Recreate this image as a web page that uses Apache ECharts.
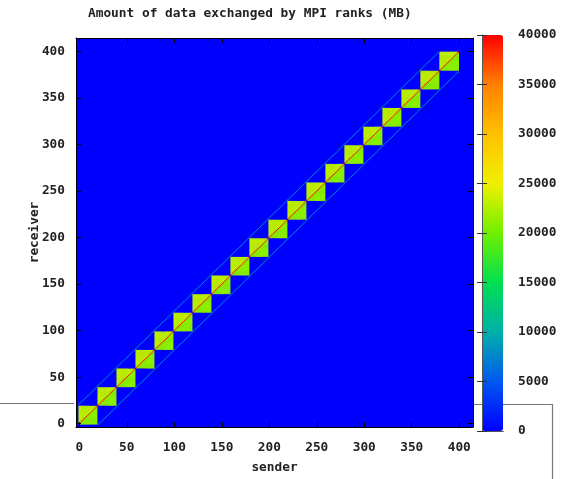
<!DOCTYPE html>
<html><head><meta charset="utf-8">
<script src="https://cdn.jsdelivr.net/npm/echarts@6/dist/echarts.min.js"></script>
<style>html,body{margin:0;padding:0;background:#fff}#c{width:570px;height:479px}</style>
</head><body><div id="c"></div>
<script>
// ---- data ----
const titleText = 'Amount of data exchanged by MPI ranks (MB)';
const xName = 'sender';
const yName = 'receiver';
const rankCount = 400;                 // ranks 0..399
const axisMin = -3;                    // visible axis range (ranks)
const axisMax = 414;
const blockSize = 20;
const blockStarts = [0, 20, 40, 60, 80, 100, 120, 140, 160, 180, 200, 220, 240, 260, 280, 300, 320, 340, 360, 380];
const diagonalValue = 40000;           // sender == receiver
const upperBlockValue = 23000;         // same block, receiver > sender
const lowerBlockValue = 21000;         // same block, receiver < sender
const neighbourOffset = 21;            // faint lines |sender-receiver| == offset
const neighbourValue = 9000;
const otherValue = 0;
const axisTickLabels = [0, 50, 100, 150, 200, 250, 300, 350, 400];
const colorMin = 0;
const colorMax = 40000;
const colorStep = 5000;

// ---- build categories / cells ----
const categories = [];
for (let v = axisMin; v <= axisMax; v++) categories.push(String(v));
function blockOf(r) {
  for (let k = 0; k < blockStarts.length; k++) {
    if (r >= blockStarts[k] && r < blockStarts[k] + blockSize) return k;
  }
  return -1;
}
const cells = [];
for (let s = 0; s < rankCount; s++) {
  const bs = blockOf(s);
  for (let r = 0; r < rankCount; r++) {
    let v = otherValue;
    if (s === r) v = diagonalValue;
    else if (bs === blockOf(r)) v = r > s ? upperBlockValue : lowerBlockValue;
    else if (Math.abs(s - r) === neighbourOffset) v = neighbourValue;
    cells.push([s - axisMin, r - axisMin, v]);
  }
}
const showTick = (idx, val) => axisTickLabels.indexOf(Number(val)) >= 0;

const font = { fontFamily: 'DejaVu Sans Mono', fontWeight: 'bold', fontSize: 12.8, color: '#222' };
const chart = echarts.init(document.getElementById('c'), null, { renderer: 'canvas' });
const plotAxisCommon = {
  type: 'category', data: categories, gridIndex: 0,
  axisLine: { show: true, lineStyle: { color: '#000', width: 1 } },
  axisTick: { show: true, inside: true, length: 5, alignWithLabel: true, interval: showTick, lineStyle: { color: '#000' } },
  splitLine: { show: false }, splitArea: { show: false }, z: 10
};
chart.setOption({
  animation: false,
  backgroundColor: '#fff',
  title: { text: titleText, left: 88, top: 7, padding: 0, textStyle: Object.assign({}, font) },
  grid: [
    { left: 76, top: 38, width: 397, height: 394, show: true, backgroundColor: '#0000ff', borderWidth: 0 },
    { left: 482, top: 35, width: 21, height: 396, show: false }
  ],
  xAxis: [
    Object.assign({}, plotAxisCommon, {
      position: 'bottom',
      axisLabel: Object.assign({ interval: showTick, margin: 14 }, font),
      name: xName, nameLocation: 'middle', nameGap: 34, nameMoveOverlap: false, nameTextStyle: Object.assign({}, font)
    }),
    Object.assign({}, plotAxisCommon, { position: 'top', axisLabel: { show: false } }),
    { type: 'value', gridIndex: 1, position: 'bottom', min: 0, max: 1, axisLine: { show: true, lineStyle: { color: '#555' } }, axisTick: { show: false }, axisLabel: { show: false }, splitLine: { show: false }, z: 10 },
    { type: 'value', gridIndex: 1, position: 'top', min: 0, max: 1, axisLine: { show: true, lineStyle: { color: '#555' } }, axisTick: { show: false }, axisLabel: { show: false }, splitLine: { show: false }, z: 10 }
  ],
  yAxis: [
    Object.assign({}, plotAxisCommon, {
      position: 'left',
      axisLabel: Object.assign({ interval: showTick, margin: 11 }, font),
      name: yName, nameLocation: 'middle', nameGap: 35, nameRotate: 90, nameMoveOverlap: false, nameTextStyle: Object.assign({}, font)
    }),
    Object.assign({}, plotAxisCommon, { position: 'right', axisLabel: { show: false } }),
    { type: 'value', gridIndex: 1, position: 'right', min: colorMin, max: colorMax, interval: colorStep,
      axisLine: { show: true, lineStyle: { color: '#555' } },
      axisTick: { show: true, inside: true, length: 5, lineStyle: { color: '#333' } },
      axisLabel: Object.assign({ margin: 15, formatter: v => String(v) }, font), splitLine: { show: false }, z: 10 },
    { type: 'value', gridIndex: 1, position: 'left', min: colorMin, max: colorMax, interval: colorStep,
      axisLine: { show: true, lineStyle: { color: '#555' } },
      axisTick: { show: true, inside: true, length: 5, lineStyle: { color: '#333' } },
      axisLabel: { show: false }, splitLine: { show: false }, z: 10 }
  ],
  visualMap: {
    type: 'continuous', min: colorMin, max: colorMax, seriesIndex: 0,
    left: 482, top: 35, itemWidth: 21, itemHeight: 396, padding: 0,
    calculable: false, hoverLink: false, text: null, showLabel: false,
    inRange: { color: ['#0000ff', '#0058f0', '#00b0a8', '#00e050', '#70f000', '#f0f000', '#ffc000', '#ff8000', '#ff0000'] }
  },
  graphic: [
    { type: 'line', shape: { x1: 0, y1: 403.5, x2: 74, y2: 403.5 }, style: { stroke: '#777', lineWidth: 1.2 }, z: -1 },
    { type: 'line', shape: { x1: 474, y1: 404.5, x2: 553, y2: 404.5 }, style: { stroke: '#777', lineWidth: 1.2 }, z: -1 },
    { type: 'line', shape: { x1: 552.5, y1: 404, x2: 552.5, y2: 479 }, style: { stroke: '#777', lineWidth: 1.2 }, z: -1 }
  ],
  series: [{
    type: 'heatmap', xAxisIndex: 0, yAxisIndex: 0, data: cells,
    progressive: 0, emphasis: { disabled: true }, silent: true
  }]
});
</script></body></html>
